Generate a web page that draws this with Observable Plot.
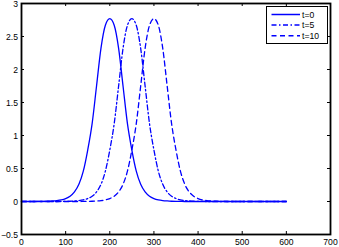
<!DOCTYPE html>
<html><head><meta charset="utf-8">
<script src="https://cdn.jsdelivr.net/npm/d3@7"></script>
<script src="https://cdn.jsdelivr.net/npm/@observablehq/plot@0.6"></script>
<style>
html,body{margin:0;padding:0;background:#fff;}
#wrap{position:relative;width:339px;height:247px;}
#legend{position:absolute;left:266px;top:6px;width:62px;height:38px;box-sizing:border-box;border:1.7px solid #000;background:#fff;}
</style></head><body><div id="wrap"></div>
<script>
const seriesNames = ["t=0", "t=5", "t=10"];
const xT0 = [0, 30, 40, 50, 60, 70, 80, 90, 100, 110, 120, 130, 140, 150, 160, 170, 180, 190, 200, 210, 220, 230, 240, 250, 260, 270, 280, 290, 300, 310, 320, 330, 340, 350, 360, 370, 600];
const yT0 = [0, 0, 0.001, 0.002, 0.004, 0.008, 0.014, 0.025, 0.045, 0.08, 0.145, 0.26, 0.46, 0.78, 1.18, 1.75, 2.32, 2.67, 2.77, 2.67, 2.32, 1.75, 1.18, 0.78, 0.46, 0.26, 0.145, 0.08, 0.045, 0.025, 0.014, 0.008, 0.004, 0.002, 0.001, 0, 0];
const xT5 = [0, 80, 90, 100, 110, 120, 130, 140, 150, 160, 170, 180, 190, 200, 210, 220, 230, 240, 250, 260, 270, 280, 290, 300, 310, 320, 330, 340, 350, 360, 370, 380, 390, 400, 410, 420, 600];
const yT5 = [0, 0, 0.001, 0.002, 0.004, 0.008, 0.014, 0.025, 0.045, 0.08, 0.145, 0.26, 0.46, 0.78, 1.18, 1.75, 2.32, 2.67, 2.77, 2.67, 2.32, 1.75, 1.18, 0.78, 0.46, 0.26, 0.145, 0.08, 0.045, 0.025, 0.014, 0.008, 0.004, 0.002, 0.001, 0, 0];
const xT10 = [0, 130, 140, 150, 160, 170, 180, 190, 200, 210, 220, 230, 240, 250, 260, 270, 280, 290, 300, 310, 320, 330, 340, 350, 360, 370, 380, 390, 400, 410, 420, 430, 440, 450, 460, 470, 600];
const yT10 = [0, 0, 0.001, 0.002, 0.004, 0.008, 0.014, 0.025, 0.045, 0.08, 0.145, 0.26, 0.46, 0.78, 1.18, 1.75, 2.32, 2.67, 2.77, 2.67, 2.32, 1.75, 1.18, 0.78, 0.46, 0.26, 0.145, 0.08, 0.045, 0.025, 0.014, 0.008, 0.004, 0.002, 0.001, 0, 0];
const xTicks = [0, 100, 200, 300, 400, 500, 600, 700];
const yTicks = [-0.5, 0, 0.5, 1, 1.5, 2, 2.5, 3];
const dashes = [null, "5,2.5,1.5,2.5", "5,3.5"];

const rows = [];
[[xT0, yT0], [xT5, yT5], [xT10, yT10]].forEach(([xs, ys], i) =>
  xs.forEach((x, j) => rows.push({series: seriesNames[i], x, y: ys[j]})));

const W = 339, H = 247, mL = 21, mR = 9, mT = 3, mB = 13;
const iw = W - mL - mR, ih = H - mT - mB;
const font = "'Liberation Sans', Arial, Helvetica, sans-serif";
const fs = "8.6px";
const blue = "#0000ff";
const fmt = d => String(d).replace("-", "\u2212");

const lineMarks = seriesNames.map((s, i) =>
  Plot.line(rows.filter(r => r.series === s), {
    x: "x", y: "y", stroke: blue, strokeWidth: 1.3,
    strokeDasharray: dashes[i] || undefined, curve: "monotone-x"
  }));

const plot = Plot.plot({
  width: W, height: H,
  marginLeft: mL, marginRight: mR, marginTop: mT, marginBottom: mB,
  style: {fontFamily: font, fontSize: fs, background: "#fff", color: "#000", overflow: "visible"},
  x: {domain: [0, 700], label: null},
  y: {domain: [-0.5, 3], label: null},
  marks: [
    Plot.axisX(xTicks, {tickSize: 0, tickPadding: 4.5, label: null, tickFormat: fmt}),
    Plot.axisY(yTicks, {tickSize: 0, tickPadding: 3.5, dy: 1, label: null, tickFormat: fmt}),
    Plot.tickX(xTicks, {x: d => d, insetTop: ih - 3, stroke: "#000"}),
    Plot.tickX(xTicks, {x: d => d, insetBottom: ih - 3, stroke: "#000"}),
    Plot.tickY(yTicks, {y: d => d, insetRight: iw - 3, stroke: "#000"}),
    Plot.tickY(yTicks, {y: d => d, insetLeft: iw - 3, stroke: "#000"}),
    ...lineMarks,
    Plot.frame({stroke: "#000", strokeWidth: 1.8})
  ]
});
const wrap = document.getElementById("wrap");
wrap.appendChild(plot);

// legend overlay
const leg = d3.select(wrap).append("div").attr("id", "legend");
const lsvg = leg.append("svg").attr("width", 59).attr("height", 35).style("display", "block");
seriesNames.forEach((s, i) => {
  const cy = 7.5 + i * 10.6;
  lsvg.append("line").attr("x1", 4.5).attr("x2", 33).attr("y1", cy).attr("y2", cy)
    .attr("stroke", blue).attr("stroke-width", 1.5)
    .attr("stroke-dasharray", dashes[i]);
  lsvg.append("text").attr("x", 35).attr("y", cy).attr("dy", "0.35em")
    .attr("font-family", font).attr("font-size", fs).attr("fill", "#000").text(s);
});
</script>
</body></html>
